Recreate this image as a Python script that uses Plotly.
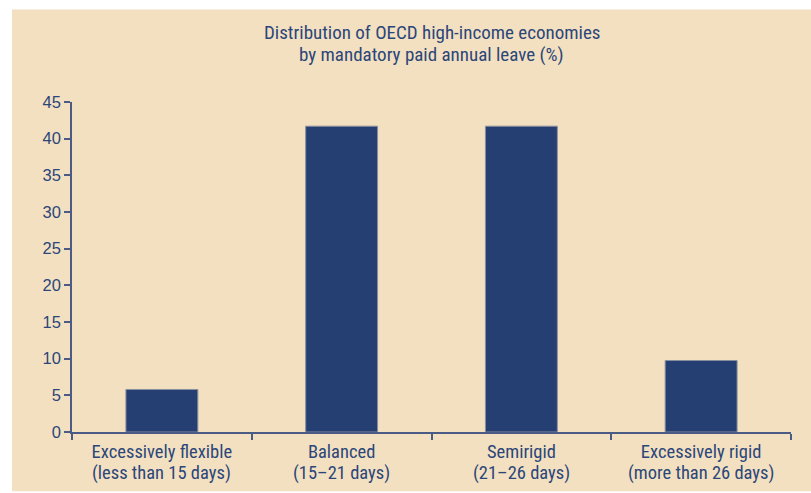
import plotly.graph_objects as go

categories = ["Excessively flexible", "Balanced", "Semirigid", "Excessively rigid"]
day_ranges = ["(less than 15 days)", "(15–21 days)", "(21–26 days)", "(more than 26 days)"]
shares = [5.8, 41.7, 41.7, 9.75]
y_ticks = [0, 5, 10, 15, 20, 25, 30, 35, 40, 45]
title_lines = ["Distribution of OECD high-income economies", "by mandatory paid annual leave (%)"]

W, H = 811, 493
L, R, T, B = 72, 20, 101.5, 61.3
TEXT = "#2B4679"
BAR = "#253F73"
BEIGE = "#F3E0C1"
AXIS = "#4A5C85"
FONT = "Liberation Sans Narrow, Roboto Condensed, Arial Narrow, Liberation Sans, sans-serif"
NUMFONT = "Liberation Sans, Arial, sans-serif"

fig = go.Figure(go.Bar(
    x=categories, y=shares,
    marker=dict(color=BAR, line=dict(color="#8A8F9F", width=1)),
    width=0.4,
))

pw, ph = W - L - R, H - T - B
fig.add_shape(type="rect", xref="paper", yref="paper",
              x0=(12 - L) / pw, x1=(811 - L) / pw,
              y0=(H - B - 491) / ph, y1=(H - B - 9) / ph,
              fillcolor=BEIGE, line=dict(width=0), layer="below")

# title lines
for line, ypix in zip(title_lines, [32, 54]):
    fig.add_annotation(text=line, xref="paper", x=0.5, xanchor="center",
                       yref="paper", y=(H - B - ypix) / ph, yanchor="middle",
                       showarrow=False, font=dict(family=FONT, size=19, color=TEXT))

# second line of category labels
for cat, rng in zip(categories, day_ranges):
    fig.add_annotation(text=rng, xref="x", x=cat, xanchor="center",
                       yref="paper", y=(H - B - 473) / ph, yanchor="middle",
                       showarrow=False, font=dict(family=FONT, size=18.5, color=TEXT))

fig.update_layout(
    width=W, height=H,
    margin=dict(l=L, r=R, t=T, b=B),
    paper_bgcolor="white",
    plot_bgcolor="rgba(0,0,0,0)",
    font=dict(family=FONT, color=TEXT, size=18.5),
    showlegend=False,
    bargap=0.6,
)
fig.update_xaxes(
    showline=True, linecolor=AXIS, linewidth=1.5,
    ticks="outside", tickson="boundaries", ticklen=6, tickcolor=AXIS, tickwidth=1.5,
    showgrid=False, tickfont=dict(family=FONT, size=18.5, color=TEXT),
    ticklabelstandoff=2,
)
fig.update_yaxes(
    range=[0, 45], tickvals=y_ticks,
    showline=True, linecolor=AXIS, linewidth=1.5,
    ticks="outside", ticklen=6, tickcolor=AXIS, tickwidth=1.5,
    showgrid=False, zeroline=False,
    tickfont=dict(family=NUMFONT, size=16.5, color=TEXT),
)

fig.write_html("out.html", post_script="document.body.style.margin='0';",
               config={"displayModeBar": False})
